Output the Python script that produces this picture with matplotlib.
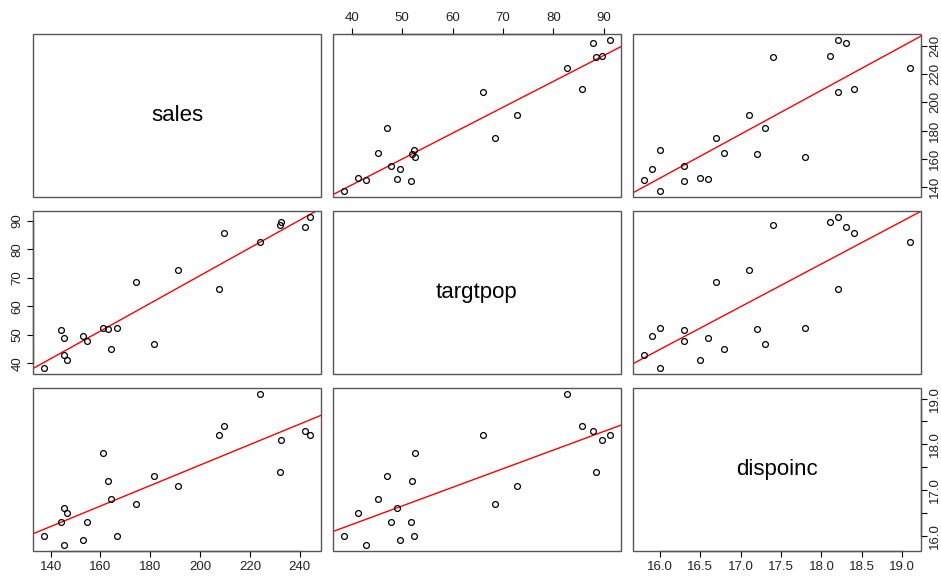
import numpy as np
import matplotlib
matplotlib.use('Agg')
import matplotlib.pyplot as plt
from matplotlib.patches import Rectangle

plt.rcParams['font.family'] = ['Liberation Sans', 'DejaVu Sans']

# Dwaine Studios data
sales = [174.4, 164.4, 244.2, 154.6, 181.6, 207.5, 152.8, 163.2, 145.4, 137.2, 241.9,
         191.1, 232.0, 145.3, 161.1, 209.7, 146.4, 144.0, 232.6, 224.1, 166.5]
targtpop = [68.5, 45.2, 91.3, 47.8, 46.9, 66.1, 49.5, 52.0, 48.9, 38.4, 87.9,
            72.8, 88.4, 42.9, 52.5, 85.7, 41.3, 51.7, 89.6, 82.7, 52.3]
dispoinc = [16.7, 16.8, 18.2, 16.3, 17.3, 18.2, 15.9, 17.2, 16.6, 16.0, 18.3,
            17.1, 17.4, 15.8, 17.8, 18.4, 16.5, 16.3, 18.1, 19.1, 16.0]

names = ['sales', 'targtpop', 'dispoinc']
data = [np.array(sales), np.array(targtpop), np.array(dispoinc)]

sales_ticks = [140, 160, 180, 200, 220, 240]
targ_ticks = [40, 50, 60, 70, 80, 90]
disp_ticks = [16.0, 16.5, 17.0, 17.5, 18.0, 18.5, 19.0]

W, H = 941, 577
cols_px = [(33, 321), (333, 621), (633, 921)]
rows_px = [(34, 197), (211, 374), (388, 551)]

fig = plt.figure(figsize=(W / 100, H / 100), dpi=100)


def lims(v):
    d = v.max() - v.min()
    return v.min() - 0.04 * d, v.max() + 0.04 * d


axes = {}
for i in range(3):
    for j in range(3):
        x0, x1 = cols_px[j]
        y0, y1 = rows_px[i]
        ax = fig.add_axes([x0 / W, 1 - y1 / H, (x1 - x0) / W, (y1 - y0) / H])
        axes[i, j] = ax
        for s in ax.spines.values():
            s.set_visible(False)
        ax.add_patch(Rectangle((0, 0), 1, 1, transform=ax.transAxes, fill=False,
                               ec='#555555', lw=1.0, clip_on=False, zorder=5))
        ax.set_xticks([])
        ax.set_yticks([])
        ax.set_xlim(*lims(data[j]))
        ax.set_ylim(*lims(data[i]))
        if i == j:
            ax.text(0.5, 0.5, names[i], transform=ax.transAxes, ha='center',
                    va='center', fontsize=16)
            continue
        x, y = data[j], data[i]
        ax.plot(x, y, 'o', mfc='none', mec='black', mew=0.9, ms=4.2, zorder=3)
        b, a = np.polyfit(x, y, 1)
        ax.axline((0, a), slope=b, color='red', lw=1.0, zorder=2)

tick_kw = dict(direction='out', length=4.5, width=0.8, labelsize=9.5,
               labelcolor='#222222', pad=2.5)


def axis_x(ax, ticks, labels, side):
    ax.set_xticks(ticks, labels=labels)
    ax.xaxis.set_ticks_position(side)
    ax.xaxis.set_label_position(side)
    ax.tick_params(axis='x', **tick_kw)
    sp = ax.spines[side]
    sp.set_visible(True)
    sp.set_bounds(ticks[0], ticks[-1])
    sp.set_linewidth(0.9)


def axis_y(ax, ticks, labels, side, pad=2.5):
    ax.set_yticks(ticks, labels=labels)
    ax.yaxis.set_ticks_position(side)
    ax.tick_params(axis='y', labelrotation=90, **dict(tick_kw, pad=pad))
    for t in ax.get_yticklabels():
        t.set_va('center')
    sp = ax.spines[side]
    sp.set_visible(True)
    sp.set_bounds(ticks[0], ticks[-1])
    sp.set_linewidth(0.9)


axis_x(axes[0, 1], targ_ticks, [str(t) for t in targ_ticks], 'top')
axis_y(axes[0, 2], sales_ticks, [str(t) for t in sales_ticks], 'right', pad=1.5)
axis_y(axes[1, 0], targ_ticks, [str(t) for t in targ_ticks], 'left')
axis_x(axes[2, 0], sales_ticks, [str(t) for t in sales_ticks], 'bottom')
axis_x(axes[2, 2], disp_ticks, ['%.1f' % t for t in disp_ticks], 'bottom')
axis_y(axes[2, 2], disp_ticks, ['%.1f' % t if t % 1 == 0 else '' for t in disp_ticks],
       'right', pad=1.5)

fig.savefig('out.png', dpi=100)
